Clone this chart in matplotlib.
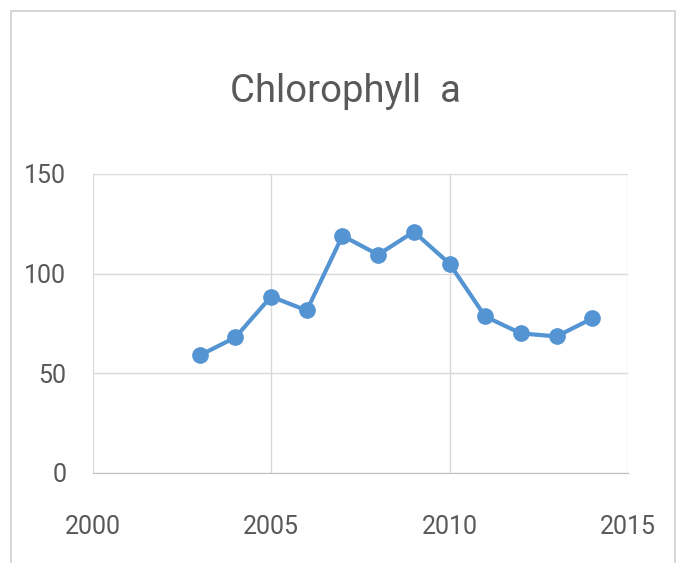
import matplotlib
matplotlib.use('Agg')
import matplotlib.pyplot as plt
from matplotlib.patches import Rectangle

# yearly chlorophyll a values
years = [2003, 2004, 2005, 2006, 2007, 2008, 2009, 2010, 2011, 2012, 2013, 2014]
chl_a = [59, 68, 88.5, 81.5, 119, 109.5, 121, 105, 78.5, 70, 68.5, 77.5]

x_ticks = [2000, 2005, 2010, 2015]
y_ticks = [0, 50, 100, 150]

plt.rcParams['font.family'] = ['Roboto', 'DejaVu Sans']
text_color = '#595959'
grid_color = '#D9D9D9'
line_color = '#5494D2'

fig = plt.figure(figsize=(6.88, 5.63), dpi=100)
ax = fig.add_axes([0.1347, 0.160, 0.778, 0.531])

# chart frame
fig.patches.append(Rectangle((11/688, -0.05), 664/688, 1.05 - 11/563, transform=fig.transFigure,
                             fill=False, edgecolor='#D0D0D0', linewidth=1.2))

ax.plot(years, chl_a, color=line_color, linewidth=3, marker='o', markersize=11,
        markerfacecolor=line_color, markeredgecolor=line_color)

ax.set_xlim(2000, 2015)
ax.set_ylim(0, 150)
ax.set_xticks(x_ticks)
ax.set_yticks(y_ticks)
ax.grid(True, color=grid_color, linewidth=1)
ax.set_axisbelow(True)
for s in ['top', 'right', 'left']:
    ax.spines[s].set_visible(False)
ax.spines['bottom'].set_color('#BFBFBF')
ax.tick_params(length=0, labelsize=18, colors=text_color)
ax.tick_params(axis='x', pad=30)
ax.tick_params(axis='y', pad=19)

fig.text(0.5015, 0.838, 'Chlorophyll  a', ha='center', va='center', fontsize=27.5, color=text_color)

plt.savefig('out.png', dpi=100)
